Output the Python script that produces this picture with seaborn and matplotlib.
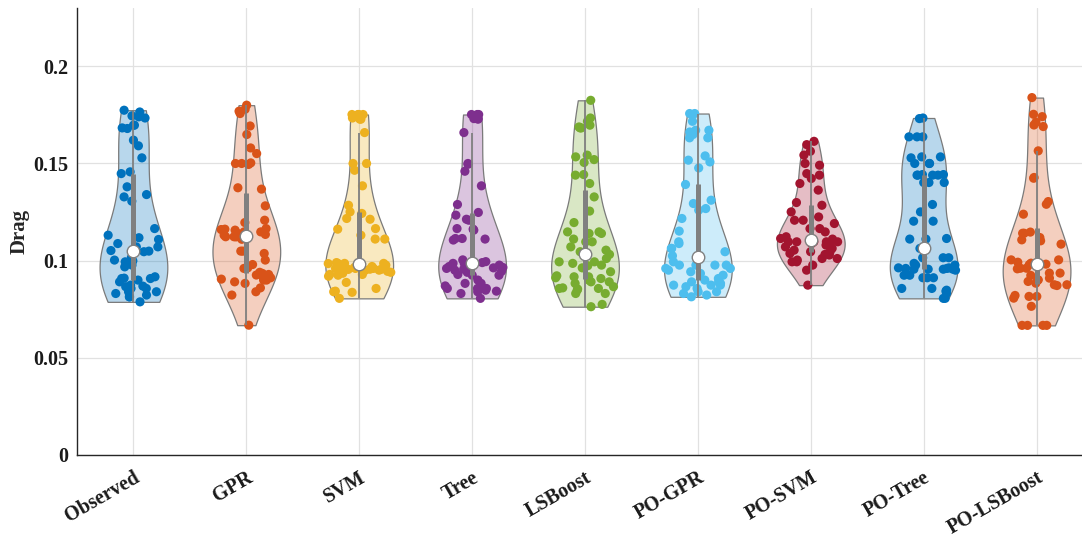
import numpy as np
import pandas as pd
import matplotlib
matplotlib.use("Agg")
import matplotlib.pyplot as plt
from matplotlib.colors import to_rgba
import seaborn as sns

# ---- data -------------------------------------------------------------
models = ["Observed", "GPR", "SVM", "Tree", "LSBoost",
          "PO-GPR", "PO-SVM", "PO-Tree", "PO-LSBoost"]

colors = ["#0072BD", "#D95319", "#EDB120", "#7E2F8E", "#77AC30",
          "#4DBEEE", "#A2142F", "#0072BD", "#D95319"]

observed = [0.1774, 0.1765, 0.1745, 0.1740, 0.1734, 0.1697, 0.1697, 0.1683, 0.1680,
            0.1620, 0.1591, 0.1529, 0.1457, 0.1448, 0.1380, 0.1340, 0.1328, 0.1306,
            0.1165, 0.1131, 0.1118, 0.1109, 0.1088, 0.1071, 0.1071, 0.1052, 0.1063,
            0.1049, 0.1046, 0.1016, 0.1003, 0.0999, 0.0994, 0.0977, 0.0968, 0.0917,
            0.0908, 0.0908, 0.0900, 0.0891, 0.0874, 0.0910, 0.0869, 0.0866, 0.0857,
            0.0857, 0.0840, 0.0840, 0.0831, 0.0823, 0.0814, 0.0814, 0.0788]

gpr = [0.1800, 0.1779, 0.1769, 0.1757, 0.1693, 0.1649, 0.1580, 0.1551, 0.1503,
       0.1500, 0.1500, 0.1495, 0.1375, 0.1368, 0.1282, 0.1208, 0.1196, 0.1165,
       0.1162, 0.1157, 0.1148, 0.1148, 0.1131, 0.1131, 0.1123, 0.1123, 0.1123,
       0.1123, 0.1049, 0.1049, 0.1037, 0.1003, 0.0963, 0.0960, 0.0934, 0.0929,
       0.0926, 0.0917, 0.0912, 0.0905, 0.0900, 0.0891, 0.0883, 0.0860, 0.0840,
       0.0823, 0.0668, 0.1160, 0.1140, 0.1135, 0.1110, 0.0980, 0.0940, 0.0900]

svm = [0.1752, 0.1752, 0.1752, 0.1752, 0.1734, 0.1728, 0.1728, 0.1659, 0.1500,
       0.1500, 0.1465, 0.1385, 0.1285, 0.1251, 0.1243, 0.1217, 0.1213, 0.1165,
       0.1162, 0.1131, 0.1111, 0.1111, 0.0986, 0.0986, 0.0986, 0.0977, 0.0963,
       0.0960, 0.0960, 0.0956, 0.0956, 0.0956, 0.0951, 0.0929, 0.0925, 0.0929,
       0.0888, 0.0857, 0.0843, 0.0840, 0.0837, 0.0806, 0.0990, 0.0985, 0.0975,
       0.0970, 0.0965, 0.0960, 0.0955, 0.0950, 0.0945, 0.0940, 0.0935, 0.0920]

tree = [0.1752, 0.1752, 0.1752, 0.1731, 0.1731, 0.1731, 0.1728, 0.1659, 0.1500,
        0.1496, 0.1460, 0.1385, 0.1289, 0.1248, 0.1234, 0.1213, 0.1208, 0.1165,
        0.1162, 0.1157, 0.1114, 0.1111, 0.1106, 0.1114, 0.1004, 0.0986, 0.0986,
        0.0977, 0.0963, 0.0960, 0.0956, 0.0951, 0.0951, 0.0929, 0.0925, 0.0925,
        0.0883, 0.0883, 0.0857, 0.0857, 0.0857, 0.0848, 0.0843, 0.0840, 0.0831,
        0.0806, 0.0995, 0.0990, 0.0970, 0.0965, 0.0945, 0.0940, 0.0900, 0.0870]

lsboost = [0.1825, 0.1734, 0.1717, 0.1697, 0.1688, 0.1683, 0.1683, 0.1543, 0.1534,
           0.1520, 0.1505, 0.1443, 0.1440, 0.1397, 0.1328, 0.1255, 0.1196, 0.1148,
           0.1148, 0.1140, 0.1140, 0.1111, 0.1097, 0.1097, 0.1071, 0.1054, 0.1046,
           0.1032, 0.1011, 0.0994, 0.0994, 0.0986, 0.0977, 0.0974, 0.0963, 0.0943,
           0.0922, 0.0917, 0.0917, 0.0912, 0.0908, 0.0900, 0.0891, 0.0891, 0.0883,
           0.0866, 0.0860, 0.0857, 0.0857, 0.0854, 0.0848, 0.0831, 0.0831, 0.0775,
           0.0763]

po_gpr = [0.1757, 0.1757, 0.1717, 0.1671, 0.1671, 0.1662, 0.1649, 0.1632, 0.1632,
          0.1539, 0.1517, 0.1508, 0.1477, 0.1392, 0.1311, 0.1294, 0.1268, 0.1260,
          0.1217, 0.1152, 0.1097, 0.1088, 0.1063, 0.1063, 0.1046, 0.1025, 0.1020,
          0.0994, 0.0977, 0.0977, 0.0977, 0.0977, 0.0960, 0.0960, 0.0951, 0.0943,
          0.0934, 0.0925, 0.0908, 0.0900, 0.0891, 0.0891, 0.0883, 0.0874, 0.0874,
          0.0874, 0.0866, 0.0857, 0.0840, 0.0840, 0.0831, 0.0823, 0.0814]

po_svm = [0.1614, 0.1597, 0.1563, 0.1543, 0.1500, 0.1491, 0.1448, 0.1440, 0.1423,
          0.1397, 0.1363, 0.1299, 0.1285, 0.1251, 0.1225, 0.1208, 0.1208, 0.1191,
          0.1165, 0.1165, 0.1148, 0.1123, 0.1111, 0.1097, 0.1097, 0.1097, 0.1097,
          0.1097, 0.1114, 0.1088, 0.1080, 0.1080, 0.1071, 0.1063, 0.1054, 0.1046,
          0.1046, 0.1037, 0.1032, 0.1029, 0.1011, 0.1011, 0.1003, 0.0994, 0.0994,
          0.0977, 0.0951, 0.0874]

po_tree = [0.1734, 0.1731, 0.1637, 0.1637, 0.1637, 0.1534, 0.1534, 0.1529, 0.1500,
           0.1500, 0.1500, 0.1443, 0.1443, 0.1440, 0.1440, 0.1440, 0.1440, 0.1402,
           0.1402, 0.1402, 0.1289, 0.1251, 0.1203, 0.1203, 0.1114, 0.1111, 0.1111,
           0.1063, 0.1015, 0.1015, 0.1015, 0.0986, 0.0977, 0.0977, 0.0963, 0.0963,
           0.0960, 0.0960, 0.0956, 0.0956, 0.0956, 0.0956, 0.0951, 0.0925, 0.0925,
           0.0912, 0.0912, 0.0912, 0.0857, 0.0857, 0.0848, 0.0843, 0.0831, 0.0806,
           0.0806]

po_lsboost = [0.1839, 0.1741, 0.1753, 0.1698, 0.1712, 0.1690, 0.1565, 0.1424, 0.1428,
              0.1304, 0.1290, 0.1239, 0.1141, 0.1147, 0.1141, 0.1119, 0.1107, 0.1102,
              0.1085, 0.1004, 0.1004, 0.0992, 0.0987, 0.0982, 0.0979, 0.0961, 0.0961,
              0.0958, 0.0936, 0.0936, 0.0924, 0.0910, 0.0901, 0.0901, 0.0893, 0.0884,
              0.0876, 0.0876, 0.0872, 0.0821, 0.0816, 0.0816, 0.0807, 0.0765, 0.0667,
              0.0667, 0.0667, 0.0667]

series = [observed, gpr, svm, tree, lsboost, po_gpr, po_svm, po_tree, po_lsboost]

yticks = [0, 0.05, 0.1, 0.15, 0.2]
ytick_labels = ["0", "0.05", "0.1", "0.15", "0.2"]

df = pd.DataFrame({
    "Model": np.repeat(models, [len(s) for s in series]),
    "Drag": np.concatenate(series),
})
palette = dict(zip(models, colors))

# ---- style ------------------------------------------------------------
sns.set_style("white")
plt.rcParams["font.family"] = ["Liberation Serif", "DejaVu Serif"]
plt.rcParams["font.weight"] = "bold"

fig = plt.figure(figsize=(10.82, 5.37), dpi=100)
ax = fig.add_axes([77 / 1082, 82 / 537, 1016 / 1082, 447 / 537])

# ---- violins ----------------------------------------------------------
n0 = len(ax.collections)
sns.violinplot(data=df, x="Model", y="Drag", hue="Model", order=models,
               hue_order=models, palette=palette, cut=0, width=0.6,
               density_norm="width", bw_adjust=1.35, inner=None, linewidth=0.9,
               linecolor="#7a7a7a", saturation=1, legend=False, ax=ax)
violins = [c for c in ax.collections[n0:] if len(c.get_paths())]

# half-width profile of each violin
profiles = {}
for coll in violins:
    verts = coll.get_paths()[0].vertices
    center = int(round(verts[:, 0].mean()))
    right = verts[verts[:, 0] >= center]
    order = np.argsort(right[:, 1])
    profiles[center] = (right[order, 1], right[order, 0] - center)
    fc = coll.get_facecolor()[0]
    coll.set_facecolor(to_rgba(fc[:3], 0.28))
    coll.set_zorder(2)

# ---- jittered points --------------------------------------------------
np.random.seed(7)
jit = 0.3
n1 = len(ax.collections)
sns.stripplot(data=df, x="Model", y="Drag", hue="Model", order=models,
              hue_order=models, palette=palette, jitter=jit, size=6.6,
              linewidth=0, legend=False, zorder=3, ax=ax)
for coll in ax.collections[n1:]:
    off = coll.get_offsets()
    if len(off) == 0:
        continue
    center = int(round(np.mean(off[:, 0])))
    ys, hw = profiles[center]
    half = np.interp(off[:, 1], ys, hw)
    frac = (off[:, 0] - center) / jit
    off[:, 0] = center + frac * np.maximum(half - 0.012, 0.01)
    coll.set_offsets(off)
    coll.set_alpha(1)

# ---- inner box: whiskers, IQR bar and median ---------------------------
for i, vals in enumerate(series):
    v = np.asarray(vals)
    q1, q2, q3 = np.percentile(v, [25, 50, 75])
    iqr = q3 - q1
    lo = v[v >= q1 - 1.5 * iqr].min()
    hi = v[v <= q3 + 1.5 * iqr].max()
    ax.vlines(i, lo, hi, color="#808080", lw=1.3, zorder=4)
    ax.vlines(i, q1, q3, color="#808080", lw=3.6, zorder=4)
    ax.plot(i, q2, "o", mfc="white", mec="#808080", mew=1.0, ms=9, zorder=5)

# ---- axes -------------------------------------------------------------
ax.set_xlim(-0.5, 8.5)
ax.set_ylim(0, 0.23)
ax.set_yticks(yticks)
ax.set_yticklabels(ytick_labels)
ax.set_xticks(range(len(models)))
ax.set_xticklabels(models, rotation=30, ha="right", rotation_mode="anchor")
ax.set_xlabel("")
ax.set_ylabel("Drag", fontsize=15, fontweight="bold", labelpad=3)

ax.grid(True, color="#e1e1e1", lw=0.9)
ax.set_axisbelow(True)
for s in ["top", "right"]:
    ax.spines[s].set_visible(False)
for s in ["left", "bottom"]:
    ax.spines[s].set_color("#262626")
    ax.spines[s].set_linewidth(1.0)
ax.tick_params(axis="both", direction="in", length=7, width=1,
               color="#262626", labelsize=14.5, labelcolor="#1a1a1a")
ax.tick_params(axis="x", pad=9)
ax.tick_params(axis="y", pad=6)
for lab in ax.get_xticklabels() + ax.get_yticklabels():
    lab.set_fontweight("bold")

fig.savefig("out.png", dpi=100)
